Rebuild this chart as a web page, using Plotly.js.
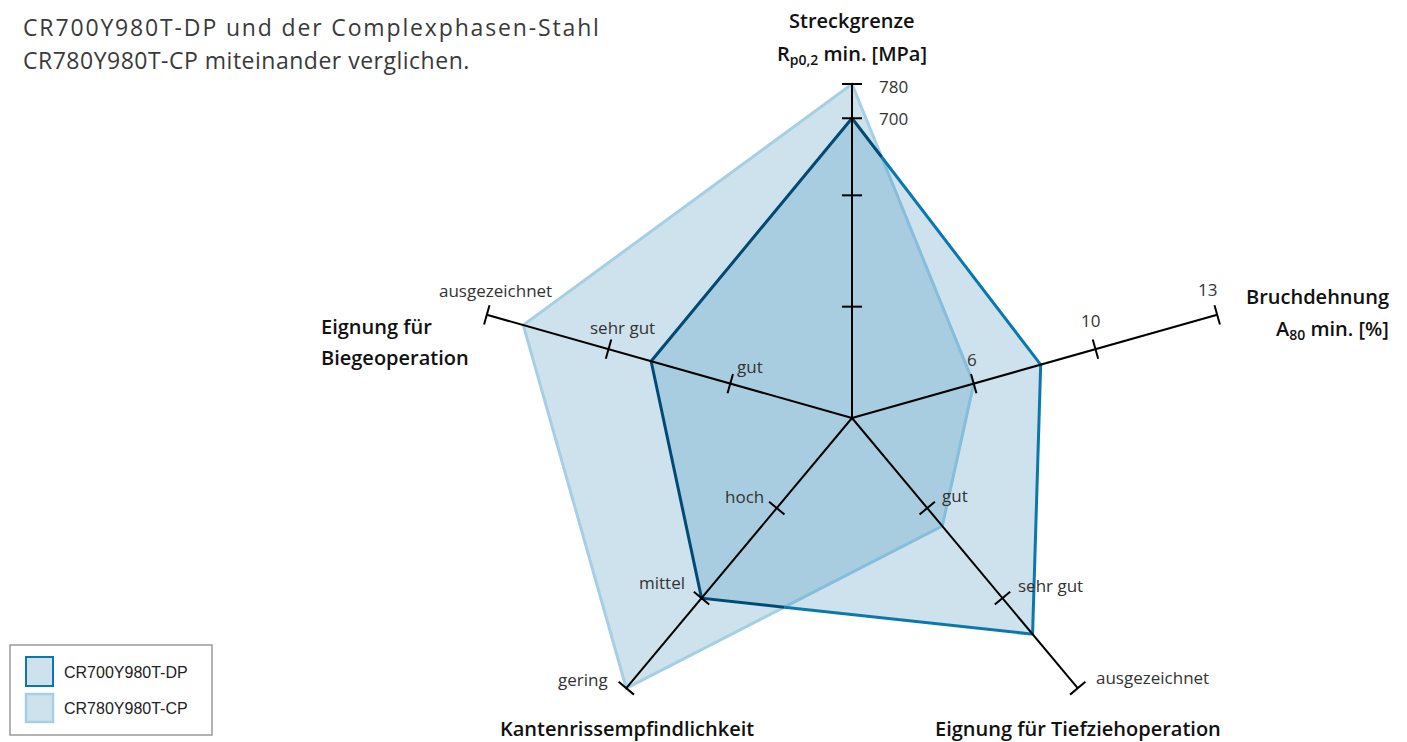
<!DOCTYPE html>
<html><head><meta charset="utf-8">
<script src="https://cdn.plot.ly/plotly-3.0.1.min.js"></script>
<style>html,body{margin:0;padding:0;background:#fff;overflow:hidden}#chart{width:1407px;height:742px}</style>
</head><body><div id="chart"></div>
<script>
// ---------------- data ----------------
const axisNames = ['Streckgrenze', 'Bruchdehnung', 'Eignung für Tiefziehoperation', 'Kantenrissempfindlichkeit', 'Eignung für Biegeoperation'];
const seriesNames = ['CR700Y980T-DP', 'CR780Y980T-CP'];
const streckTicks = [260, 520, 700, 780];
const streckTickLabels = ['', '', '700', '780'];
const bruchTicks = [6, 10, 13];
const bruchTickLabels = ['6', '10', '13'];
const tiefLevels = ['gut', 'sehr gut', 'ausgezeichnet'];
const kantenLevels = ['hoch', 'mittel', 'gering'];
const biegeLevels = ['gut', 'sehr gut', 'ausgezeichnet'];
// order: Streckgrenze [MPa], Bruchdehnung [%], Tiefzieh (level 1-3), Kanten (level 1-3), Biege (level 1-3)
const dpValues = [700, 8.2, 2.4, 2, 1.65];
const cpValues = [780, 6, 1.2, 3, 2.7];

// ---------------- layout constants ----------------
const W = 1407, H = 742, CX = 852, CY = 418, SX = 384, SY = 334;
const angles = [90, 18, -54, -126, 162];
const FONT = 'Open Sans, Lato, sans-serif';

function piecewise(v, xs, ys) {
  for (let i = 0; i < xs.length - 1; i++) {
    if (v <= xs[i + 1] || i === xs.length - 2) {
      return ys[i] + (v - xs[i]) / (xs[i + 1] - xs[i]) * (ys[i + 1] - ys[i]);
    }
  }
}
const radiusFns = [
  v => v / streckTicks[streckTicks.length - 1],
  v => piecewise(v, [0].concat(bruchTicks), [0, 1, 2, 3]) / bruchTicks.length,
  v => v / tiefLevels.length,
  v => v / kantenLevels.length,
  v => v / biegeLevels.length
];
const axisTicks = [
  streckTicks.map((t, i) => ({ r: radiusFns[0](t), label: streckTickLabels[i] })),
  bruchTicks.map((t, i) => ({ r: radiusFns[1](t), label: bruchTickLabels[i] })),
  tiefLevels.map((l, i) => ({ r: radiusFns[2](i + 1), label: l })),
  kantenLevels.map((l, i) => ({ r: radiusFns[3](i + 1), label: l })),
  biegeLevels.map((l, i) => ({ r: radiusFns[4](i + 1), label: l }))
];
// label placement (pixel offsets from tick; style only)
const labelStyle = [
  { xanchor: 'left', off: [[25, 0], [25, 0], [25, 0], [25, 2]] },
  { xanchor: 'center', off: [[-2, -24], [-5, -29], [-10, -25]] },
  { xanchor: 'left', off: [[13, -13], [14, -13], [16, -11]] },
  { xanchor: 'right', off: [[-11, -12], [-15, -16], [-16, -9]] },
  { xanchor: 'center', off: [[20, -17], [14, -22], [9, -24]] }
];

function pt(i, r) {
  const a = angles[i] * Math.PI / 180;
  return [r * Math.cos(a), r * Math.sin(a)];
}
function polygon(values) { return values.map((v, i) => pt(i, radiusFns[i](v))); }

const dpPoly = polygon(dpValues);
const cpPoly = polygon(cpValues);

// ---- geometry helpers for the two-tone outlines ----
function segT(a, b, c, d) {
  const r = [b[0] - a[0], b[1] - a[1]], s = [d[0] - c[0], d[1] - c[1]];
  const den = r[0] * s[1] - r[1] * s[0];
  if (Math.abs(den) < 1e-12) return null;
  const q = [c[0] - a[0], c[1] - a[1]];
  const t = (q[0] * s[1] - q[1] * s[0]) / den;
  const u = (q[0] * r[1] - q[1] * r[0]) / den;
  if (t > 1e-9 && t < 1 - 1e-9 && u >= 0 && u <= 1) return t;
  return null;
}
function inside(p, poly) {
  let c = false;
  for (let i = 0, j = poly.length - 1; i < poly.length; j = i++) {
    const a = poly[i], b = poly[j];
    if (((a[1] > p[1]) !== (b[1] > p[1])) && (p[0] < (b[0] - a[0]) * (p[1] - a[1]) / (b[1] - a[1]) + a[0])) c = !c;
  }
  return c;
}
function splitOutline(poly, clip) {
  const pieces = [];
  const n = poly.length;
  for (let i = 0; i < n; i++) {
    const a = poly[i], b = poly[(i + 1) % n];
    const ts = [0, 1];
    for (let k = 0; k < clip.length; k++) {
      const t = segT(a, b, clip[k], clip[(k + 1) % clip.length]);
      if (t !== null) ts.push(t);
    }
    ts.sort((x, y) => x - y);
    const L = t => [a[0] + (b[0] - a[0]) * t, a[1] + (b[1] - a[1]) * t];
    for (let k = 0; k < ts.length - 1; k++) {
      if (ts[k + 1] - ts[k] < 1e-9) continue;
      const mid = L((ts[k] + ts[k + 1]) / 2);
      pieces.push({ p0: L(ts[k]), p1: L(ts[k + 1]), ins: inside(mid, clip) });
    }
  }
  const runs = [];
  pieces.forEach(p => {
    const last = runs[runs.length - 1];
    if (last && last.ins === p.ins) last.pts.push(p.p1);
    else runs.push({ ins: p.ins, pts: [p.p0, p.p1] });
  });
  if (runs.length > 1 && runs[0].ins === runs[runs.length - 1].ins) {
    const last = runs.pop();
    runs[0].pts = last.pts.concat(runs[0].pts.slice(1));
  }
  const out = { ins: { x: [], y: [] }, out: { x: [], y: [] } };
  runs.forEach(r => {
    const tgt = r.ins ? out.ins : out.out;
    r.pts.forEach(p => { tgt.x.push(p[0]); tgt.y.push(p[1]); });
    tgt.x.push(null); tgt.y.push(null);
  });
  return out;
}

const FILL = 'rgba(70,148,188,0.27)';
const traces = [];
function closed(poly) { return { x: poly.map(p => p[0]).concat([poly[0][0]]), y: poly.map(p => p[1]).concat([poly[0][1]]) }; }
const cpC = closed(cpPoly), dpC = closed(dpPoly);
traces.push({ type: 'scatter', mode: 'lines', x: cpC.x, y: cpC.y, fill: 'toself', fillcolor: FILL, line: { width: 0 }, name: seriesNames[1], hoverinfo: 'skip' });
traces.push({ type: 'scatter', mode: 'lines', x: dpC.x, y: dpC.y, fill: 'toself', fillcolor: FILL, line: { width: 0 }, name: seriesNames[0], hoverinfo: 'skip' });

const cpSplit = splitOutline(cpPoly, dpPoly);
const dpSplit = splitOutline(dpPoly, cpPoly);
traces.push({ type: 'scatter', mode: 'lines', x: cpSplit.out.x, y: cpSplit.out.y, line: { color: '#a6cfe4', width: 3 }, hoverinfo: 'skip' });
traces.push({ type: 'scatter', mode: 'lines', x: cpSplit.ins.x, y: cpSplit.ins.y, line: { color: '#86bddb', width: 3 }, hoverinfo: 'skip' });
traces.push({ type: 'scatter', mode: 'lines', x: dpSplit.out.x, y: dpSplit.out.y, line: { color: '#0b78ad', width: 3 }, hoverinfo: 'skip' });
traces.push({ type: 'scatter', mode: 'lines', x: dpSplit.ins.x, y: dpSplit.ins.y, line: { color: '#024a73', width: 3 }, hoverinfo: 'skip' });

// axes + ticks
const ax = { x: [], y: [] }, tk = { x: [], y: [] };
const annotations = [];
const TL = 10; // half tick length in px
angles.forEach((ang, i) => {
  const end = pt(i, 1);
  ax.x.push(0, end[0], null); ax.y.push(0, end[1], null);
  const a = ang * Math.PI / 180;
  let ux = Math.cos(a) * SX, uy = -Math.sin(a) * SY;
  const len = Math.hypot(ux, uy); ux /= len; uy /= len;
  const px = -uy * TL, py = ux * TL; // perpendicular in pixel space
  axisTicks[i].forEach((t, k) => {
    const p = pt(i, t.r);
    tk.x.push(p[0] + px / SX, p[0] - px / SX, null);
    tk.y.push(p[1] - py / SY, p[1] + py / SY, null);
    if (t.label) {
      const o = labelStyle[i].off[k];
      annotations.push({ x: p[0], y: p[1], xref: 'x', yref: 'y', text: t.label, showarrow: false,
        xanchor: labelStyle[i].xanchor, yanchor: 'middle', xshift: o[0], yshift: -o[1],
        font: { family: FONT, size: 17, color: '#333333' } });
    }
  });
});
traces.push({ type: 'scatter', mode: 'lines', x: ax.x, y: ax.y, line: { color: '#000000', width: 2 }, hoverinfo: 'skip' });
traces.push({ type: 'scatter', mode: 'lines', x: tk.x, y: tk.y, line: { color: '#000000', width: 2 }, hoverinfo: 'skip' });

// paper-positioned text helper
function pAnn(px, py, text, xanchor, font) {
  return { x: px / W, y: 1 - py / H, xref: 'paper', yref: 'paper', text: text, showarrow: false,
    xanchor: xanchor, yanchor: 'middle', font: font };
}
const TF = { family: FONT, size: 20, color: '#111111', weight: 600 };
annotations.push(pAnn(852, 20, axisNames[0], 'center', TF));
annotations.push(pAnn(852, 54, 'R<sub>p0,2</sub> min. [MPa]', 'center', TF));
annotations.push(pAnn(1391, 296, axisNames[1], 'right', TF));
annotations.push(pAnn(1391, 329, 'A<sub>80</sub> min. [%]', 'right', TF));
annotations.push(pAnn(319, 326, 'Eignung für', 'left', TF));
annotations.push(pAnn(319, 357, 'Biegeoperation', 'left', TF));
annotations.push(pAnn(627, 728, axisNames[3], 'center', TF));
annotations.push(pAnn(1078, 728, axisNames[2], 'center', TF));

const IF = { family: FONT, size: 23, color: '#3a3a3a' };
annotations.push(pAnn(21, 27, 'CR700Y980T-DP und der Complexphasen-Stahl', 'left', IF));
annotations.push(pAnn(21, 60, 'CR780Y980T-CP miteinander verglichen.', 'left', IF));

// legend (drawn manually)
const LF = { family: 'Liberation Sans, Arial, sans-serif', size: 16, color: '#222222' };
annotations.push(pAnn(62, 672, seriesNames[0], 'left', LF));
annotations.push(pAnn(62, 708, seriesNames[1], 'left', LF));
function pRect(x0, y0, x1, y1, fill, line, lw) {
  return { type: 'rect', xref: 'paper', yref: 'paper', x0: x0 / W, x1: x1 / W, y0: 1 - y1 / H, y1: 1 - y0 / H,
    fillcolor: fill, line: { color: line, width: lw } };
}
const shapes = [
  pRect(10, 645, 212, 735, 'rgba(0,0,0,0)', '#9a9a9a', 1.5),
  pRect(26, 657, 53, 686, '#cde2ed', '#0b78ad', 2),
  pRect(26, 694, 53, 722, '#cde2ed', '#a6cfe4', 2.5)
];

const layout = {
  width: W, height: H, margin: { l: 0, r: 0, t: 0, b: 0, pad: 0 },
  paper_bgcolor: '#ffffff', plot_bgcolor: '#ffffff', showlegend: false, hovermode: false,
  xaxis: { range: [-CX / SX, (W - CX) / SX], visible: false, fixedrange: true },
  yaxis: { range: [-(H - CY) / SY, CY / SY], visible: false, fixedrange: true },
  annotations: annotations, shapes: shapes
};
Plotly.newPlot('chart', traces, layout, { displayModeBar: false, staticPlot: true }).then(gd => {
  // intro lines are letter-spaced in the original; keep their left edge fixed
  const spacing = [['Complexphasen', 1.85], ['miteinander', 0.5]];
  gd.querySelectorAll('.annotation-text').forEach(t => {
    spacing.forEach(([key, ls]) => {
      if (t.textContent.indexOf(key) >= 0) {
        const l0 = t.getBoundingClientRect().left;
        t.style.letterSpacing = ls + 'px';
        const l1 = t.getBoundingClientRect().left;
        const x = parseFloat(t.getAttribute('x') || '0');
        t.setAttribute('x', x + (l0 - l1));
      }
    });
  });
});
</script></body></html>
